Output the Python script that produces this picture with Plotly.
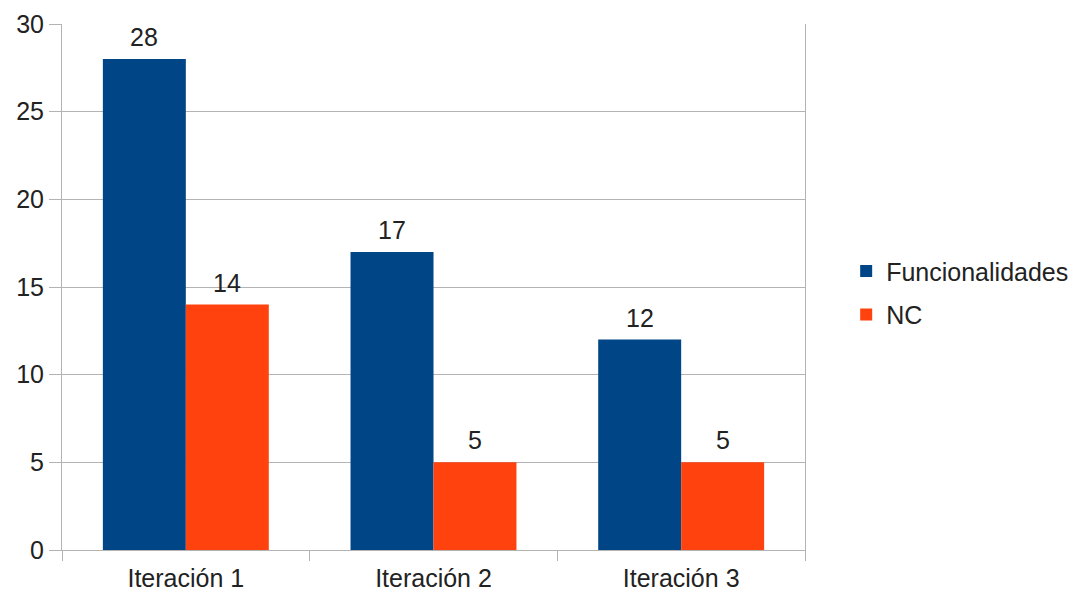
import plotly.graph_objects as go

categories = ["Iteración 1", "Iteración 2", "Iteración 3"]
funcionalidades = [28, 17, 12]
nc = [14, 5, 5]

BLUE = "#004586"
ORANGE = "#ff420e"
FONT = "Liberation Sans, Arial, sans-serif"
FS = 25

fig = go.Figure()
fig.add_trace(go.Bar(name="Funcionalidades", x=categories, y=funcionalidades,
                     marker=dict(color=BLUE, line=dict(width=0)), legendgroup="a"))
fig.add_trace(go.Bar(name="NC", x=categories, y=nc,
                     marker=dict(color=ORANGE, line=dict(width=0)), legendgroup="b"))

bar_px = 248 * (1 - 0.33) / 2
for series, sign in ((funcionalidades, -1), (nc, 1)):
    for c, v in zip(categories, series):
        fig.add_annotation(x=c, y=v, text=str(v), showarrow=False,
                           xshift=sign * bar_px / 2, yshift=6, yanchor="bottom",
                           font=dict(family=FONT, size=FS, color="#222222"))

fig.update_layout(
    width=1085, height=595,
    margin=dict(l=62, r=279, t=24, b=45),
    paper_bgcolor="white", plot_bgcolor="white",
    barmode="group", bargap=0.33, bargroupgap=0,
    font=dict(family=FONT, size=FS, color="#222222"),
    legend=dict(x=1.054, y=0.489, xanchor="left", yanchor="middle",
                traceorder="grouped", tracegroupgap=8,
                font=dict(family=FONT, size=FS, color="#222222"),
                bgcolor="rgba(0,0,0,0)"),
    showlegend=True,
)
fig.update_xaxes(tickson="boundaries", ticks="outside", ticklen=10, tickcolor="#b3b3b3",
                 showline=True, linecolor="#b3b3b3", linewidth=1, mirror=False,
                 showgrid=False, ticklabelstandoff=6, automargin=False,
                 tickfont=dict(family=FONT, size=FS, color="#222222"))
fig.update_yaxes(range=[0, 30], dtick=5, ticks="outside", ticklen=12, tickcolor="#b3b3b3",
                 showline=True, linecolor="#b3b3b3", linewidth=1, mirror=True,
                 showgrid=True, gridcolor="#b3b3b3", gridwidth=1, zeroline=False,
                 automargin=False,
                 tickfont=dict(family=FONT, size=FS, color="#222222"))

fig.write_html("out.html")
